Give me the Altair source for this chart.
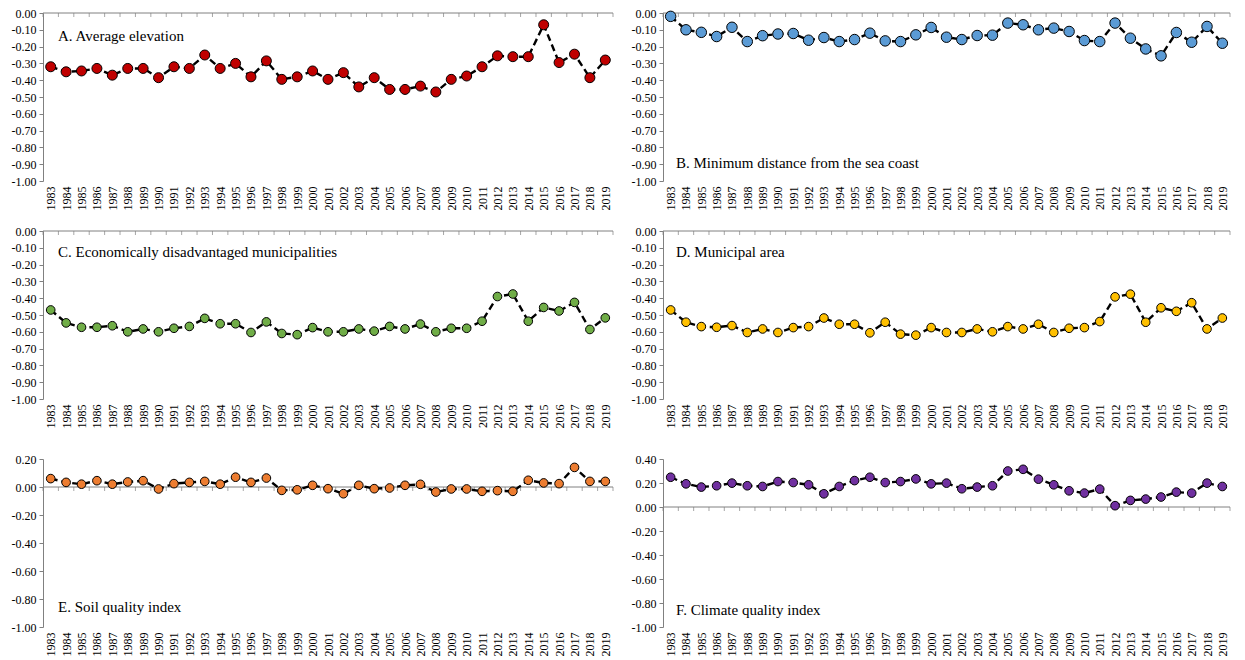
import altair as alt
import pandas as pd

# Years on the horizontal axis
years = list(range(1983, 2020))

# Coefficients per year for each determinant
avg_elevation = [-0.32, -0.35, -0.345, -0.33, -0.37, -0.33, -0.33, -0.385, -0.32, -0.33,
                 -0.25, -0.33, -0.30, -0.38, -0.285, -0.395, -0.38, -0.345, -0.395, -0.355,
                 -0.44, -0.385, -0.455, -0.455, -0.435, -0.47, -0.395, -0.375, -0.32, -0.255,
                 -0.26, -0.26, -0.07, -0.295, -0.245, -0.385, -0.28]
min_distance_coast = [-0.02, -0.10, -0.115, -0.14, -0.085, -0.17, -0.135, -0.125, -0.122, -0.162,
                      -0.146, -0.17, -0.158, -0.12, -0.166, -0.17, -0.13, -0.086, -0.144, -0.158,
                      -0.134, -0.132, -0.06, -0.07, -0.10, -0.09, -0.11, -0.164, -0.17, -0.06,
                      -0.15, -0.214, -0.255, -0.116, -0.174, -0.08, -0.18]
econ_disadvantaged = [-0.47, -0.547, -0.573, -0.573, -0.564, -0.60, -0.583, -0.60, -0.579, -0.568,
                      -0.52, -0.552, -0.552, -0.604, -0.541, -0.61, -0.617, -0.575, -0.60, -0.60,
                      -0.583, -0.596, -0.568, -0.583, -0.554, -0.60, -0.579, -0.579, -0.537, -0.39,
                      -0.375, -0.537, -0.455, -0.476, -0.425, -0.586, -0.517]
municipal_area = [-0.47, -0.543, -0.569, -0.573, -0.563, -0.604, -0.583, -0.604, -0.575, -0.569,
                  -0.518, -0.555, -0.555, -0.606, -0.543, -0.614, -0.62, -0.575, -0.604, -0.604,
                  -0.583, -0.60, -0.569, -0.583, -0.555, -0.604, -0.579, -0.575, -0.539, -0.392,
                  -0.376, -0.543, -0.457, -0.478, -0.427, -0.583, -0.518]
soil_quality = [0.06, 0.033, 0.02, 0.045, 0.02, 0.036, 0.045, -0.014, 0.024, 0.033,
                0.04, 0.02, 0.07, 0.033, 0.064, -0.024, -0.02, 0.012, -0.012, -0.048,
                0.012, -0.012, -0.007, 0.012, 0.019, -0.036, -0.014, -0.014, -0.031, -0.026,
                -0.031, 0.048, 0.029, 0.024, 0.14, 0.04, 0.04]
climate_quality = [0.248, 0.193, 0.166, 0.177, 0.199, 0.177, 0.171, 0.212, 0.204, 0.185,
                   0.11, 0.171, 0.22, 0.248, 0.204, 0.212, 0.234, 0.193, 0.199, 0.152,
                   0.166, 0.177, 0.30, 0.314, 0.232, 0.185, 0.135, 0.116, 0.149, 0.011,
                   0.055, 0.066, 0.083, 0.124, 0.116, 0.199, 0.171]

# Tick labels of the value axes
ticks_tenths = [0.0, -0.1, -0.2, -0.3, -0.4, -0.5, -0.6, -0.7, -0.8, -0.9, -1.0]
ticks_soil = [0.2, 0.0, -0.2, -0.4, -0.6, -0.8, -1.0]
ticks_climate = [0.4, 0.2, 0.0, -0.2, -0.4, -0.6, -0.8, -1.0]

FONT = "Liberation Serif"
GREY = "#808080"
PLOT_H = 168


def panel(title, values, color, domain, yticks, width, title_pos, size):
    df = pd.DataFrame({"year": years, "value": values})
    edges = pd.DataFrame({"edge": [y - 0.5 for y in years] + [years[-1] + 0.5],
                          "value": [0.0] * (len(years) + 1)})

    x_scale = alt.Scale(domain=[years[0] - 0.5, years[-1] + 0.5], nice=False, zero=False)
    y_scale = alt.Scale(domain=domain, nice=False, zero=False)

    x_axis = alt.Axis(values=years, format="d", labelAngle=270, domain=False, ticks=False,
                      grid=False, title=None, labelPadding=5)
    y_axis = alt.Axis(values=yticks, grid=False, title=None, domainColor=GREY,
                      tickColor=GREY, tickSize=4, labelPadding=3,
                      labelExpr="replace(format(datum.value, '.2f'), '\u2212', '-')")

    x_enc = alt.X("year:Q", scale=x_scale, axis=x_axis)
    y_enc = alt.Y("value:Q", scale=y_scale, axis=y_axis)

    # horizontal axis line at zero, with its ticks between the years
    zero_line = alt.Chart(pd.DataFrame({"value": [0.0]})).mark_rule(
        color=GREY, strokeWidth=1
    ).encode(y=y_enc)

    zero_ticks = alt.Chart(edges).mark_tick(
        orient="vertical", color=GREY, size=4, thickness=1, yOffset=2
    ).encode(
        x=alt.X("edge:Q", scale=x_scale, axis=x_axis),
        y=y_enc,
    )

    line = alt.Chart(df).mark_line(
        color="#000000", strokeDash=[7, 4], strokeWidth=2.4
    ).encode(x=x_enc, y=y_enc)

    points = alt.Chart(df).mark_point(
        shape="circle", filled=True, size=size, fill=color, stroke="#000000",
        strokeWidth=1, opacity=1
    ).encode(x=x_enc, y=y_enc)

    label = alt.Chart(pd.DataFrame({"t": [title]})).mark_text(
        align="left", baseline="middle", font=FONT, fontSize=15, color="#000000"
    ).encode(text="t:N", x=alt.value(title_pos[0]), y=alt.value(title_pos[1]))

    return alt.layer(zero_line, zero_ticks, line, points, label).properties(
        width=width, height=PLOT_H
    )


pa = panel("A. Average elevation", avg_elevation, "#C00000", [-1.0, 0.0],
           ticks_tenths, 570, (15, 23), 100)
pb = panel("B. Minimum distance from the sea coast", min_distance_coast, "#5B9BD5",
           [-1.0, 0.0], ticks_tenths, 567, (13, 150), 110)
pc = panel("C. Economically disadvantaged municipalities", econ_disadvantaged, "#70AD47",
           [-1.0, 0.0], ticks_tenths, 570, (15, 21), 75)
pd_ = panel("D. Municipal area", municipal_area, "#FFC000", [-1.0, 0.0],
            ticks_tenths, 567, (13, 21), 75)
pe = panel("E. Soil quality index", soil_quality, "#ED7D31", [-1.0, 0.2],
           ticks_soil, 570, (15, 148), 75)
pf = panel("F. Climate quality index", climate_quality, "#7030A0", [-1.0, 0.4],
           ticks_climate, 567, (13, 151), 75)

row1 = alt.hconcat(pa, pb, spacing=14)
row2 = alt.hconcat(pc, pd_, spacing=14)
row3 = alt.hconcat(pe, pf, spacing=14)

chart = alt.vconcat(
    alt.vconcat(row1, row2, spacing=9),
    row3,
    spacing=19,
).properties(
    padding={"left": 8, "top": 7, "right": 5, "bottom": 5},
    background="#ffffff",
).configure_view(
    stroke=None
).configure_axis(
    labelFont=FONT, labelFontSize=12, labelColor="#000000",
    labelOverlap=False, labelBound=False, labelFlush=False,
    minExtent=35, maxExtent=35,
)

chart.save("out.html", embed_options={"renderer": "svg", "actions": False})
